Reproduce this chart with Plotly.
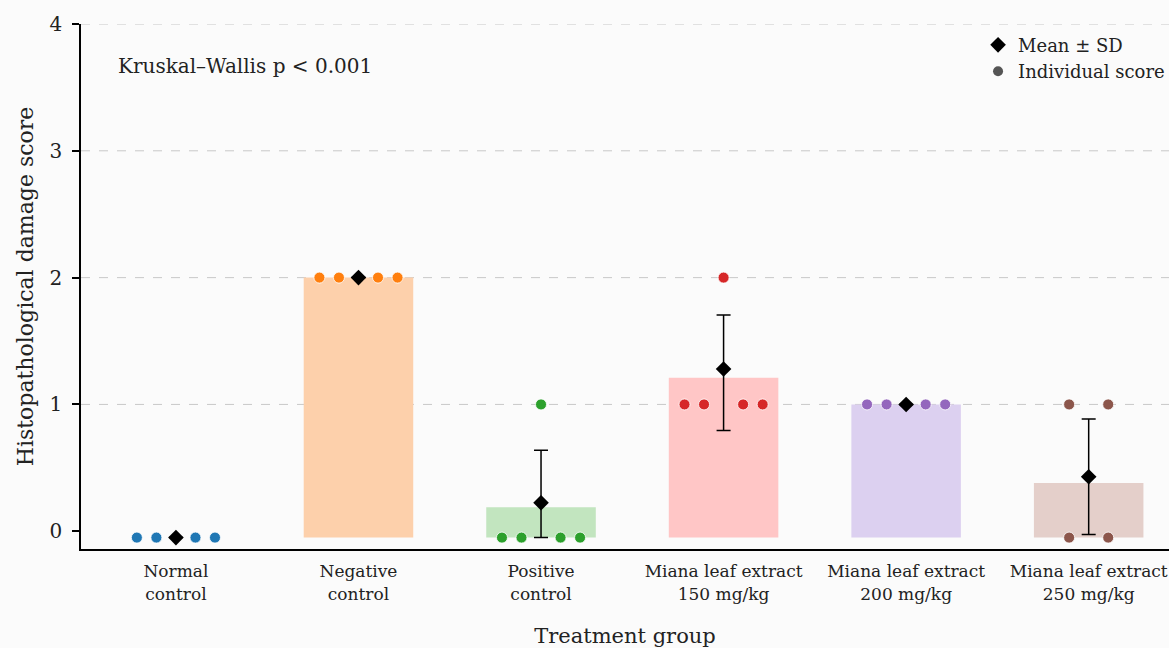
import plotly.graph_objects as go

# ---------------- data ----------------
GROUPS = ["Normal<br>control", "Negative<br>control", "Positive<br>control",
          "Miana leaf extract<br>150 mg/kg", "Miana leaf extract<br>200 mg/kg",
          "Miana leaf extract<br>250 mg/kg"]
SCORES = [
    [0, 0, 0, 0],
    [2, 2, 2, 2],
    [0, 0, 1, 0, 0],
    [1, 1, 2, 1, 1],
    [1, 1, 1, 1],
    [1, 1, 0, 0],
]
BAR_HEIGHTS = [0.0, 2.0, 0.19, 1.21, 1.0, 0.38]
MEANS = [0.0, 2.0, 0.225, 1.28, 1.0, 0.43]
ERR_UP = [0.0, 0.0, 0.413, 0.425, 0.0, 0.455]
ERR_DOWN = [0.0, 0.0, 0.413, 0.485, 0.0, 0.455]
COLORS = ["#1f77b4", "#ff7f0e", "#2ca02c", "#d62728", "#9467bd", "#8c564b"]
BAR_COLORS = ["#c6dbef", "#fdd0ab", "#c2e5bf", "#ffc6c6", "#dcd0f0", "#e4cfca"]
YTICKS = [0, 1, 2, 3, 4]
ANNOT = "Kruskal\u2013Wallis p < 0.001"

# ---------------- drawing ----------------
FONT = "DejaVu Serif"
TXT = "#222222"
BG = "#fbfbfb"
ZERO_NUDGE = -0.05   # zero scores are drawn just under the baseline
STEP = 0.107


def shown(v):
    return v if v > 0 else ZERO_NUDGE


def offsets(k):
    if k == 1:
        return [0.0]
    if k == 2:
        return [-STEP, STEP]
    half = k // 2
    return [-(i + 1) * STEP for i in reversed(range(half))] + [(i + 1) * STEP for i in range(half)]


fig = go.Figure()

# bars
fig.add_trace(go.Bar(
    x=list(range(len(GROUPS))),
    y=[(h - ZERO_NUDGE) if h > 0 else 0 for h in BAR_HEIGHTS],
    base=ZERO_NUDGE,
    marker=dict(color=BAR_COLORS, line=dict(width=0)),
    width=0.6, showlegend=False, hoverinfo="skip",
))

# mean +- sd
fig.add_trace(go.Scatter(
    x=list(range(len(GROUPS))),
    y=[shown(m) for m in MEANS],
    mode="markers",
    marker=dict(symbol="diamond", size=12, color="black"),
    error_y=dict(type="data", symmetric=False,
                 array=ERR_UP,
                 arrayminus=[min(d, shown(m) - ZERO_NUDGE) for m, d in zip(MEANS, ERR_DOWN)],
                 color="black", thickness=1.5, width=7),
    name="Mean \u00b1 SD",
))

# individual points
for gi, vals in enumerate(SCORES):
    xs, ys = [], []
    levels = {}
    for v in vals:
        levels[v] = levels.get(v, 0) + 1
    for v, k in levels.items():
        for off in offsets(k):
            xs.append(gi + off)
            ys.append(shown(v))
    fig.add_trace(go.Scatter(
        x=xs, y=ys, mode="markers",
        marker=dict(size=11, color=COLORS[gi], line=dict(width=0.8, color="white")),
        showlegend=False, hoverinfo="skip",
    ))

# legend entry for points
fig.add_trace(go.Scatter(
    x=[None], y=[None], mode="markers",
    marker=dict(size=10, color="#555555"),
    name="Individual score",
))

# gridlines
for v in YTICKS:
    if v > 0:
        fig.add_shape(type="line", xref="paper", x0=0, x1=1, yref="y", y0=v, y1=v,
                      line=dict(color="#c8c8c8", width=1, dash="dash"), layer="below")

fig.add_annotation(text=ANNOT, xref="paper", yref="paper", x=0.032, y=0.92,
                   xanchor="left", yanchor="middle", showarrow=False,
                   font=dict(family=FONT, size=20, color=TXT))

fig.update_layout(
    width=1169, height=648,
    margin=dict(l=81, r=0, t=24, b=99, autoexpand=False),
    paper_bgcolor=BG, plot_bgcolor=BG,
    font=dict(family=FONT, color=TXT),
    barmode="overlay",
    legend=dict(x=0.8245, y=0.995, xanchor="left", yanchor="top",
                bgcolor="rgba(0,0,0,0)", font=dict(family=FONT, size=18, color=TXT),
                itemsizing="trace", tracegroupgap=0),
    xaxis=dict(tickmode="array", tickvals=list(range(len(GROUPS))), ticktext=GROUPS,
               range=[-0.52, 5.44], showline=True, linecolor="black", linewidth=2,
               ticks="", showgrid=False, zeroline=False, ticklabelstandoff=6,
               automargin=False,
               tickfont=dict(family=FONT, size=17, color=TXT),
               title=dict(text="Treatment group", font=dict(family=FONT, size=21, color=TXT),
                          standoff=30)),
    yaxis=dict(tickmode="array", tickvals=YTICKS, range=[-0.14, 4.0],
               showline=True, linecolor="black", linewidth=1.5,
               ticks="outside", ticklen=7, tickwidth=1.5, tickcolor="black",
               ticklabelstandoff=6, automargin=False,
               showgrid=False, zeroline=False,
               tickfont=dict(family=FONT, size=20, color=TXT),
               title=dict(text="Histopathological damage score",
                          font=dict(family=FONT, size=22, color=TXT), standoff=10)),
)

fig.write_html(
    "out.html",
    config={"displayModeBar": False},
    post_script="document.body.style.margin='0';document.body.style.overflow='hidden';"
                "document.body.style.background='" + BG + "';",
)
